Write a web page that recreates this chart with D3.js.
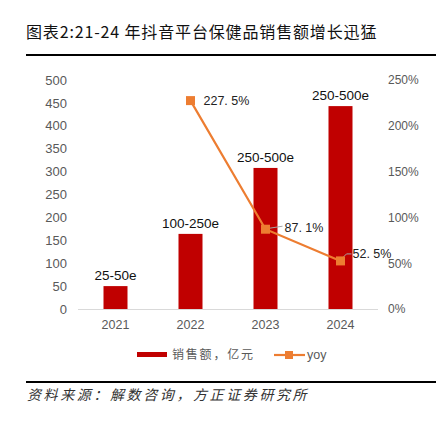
<!DOCTYPE html>
<html>
<head>
<meta charset="utf-8">
<script src="https://cdn.jsdelivr.net/npm/d3@7"></script>
<style>
  body { margin: 0; background: #fff; }
  svg { display: block; font-family: "Liberation Sans", Arial, sans-serif; }
</style>
</head>
<body>
<svg id="chart" width="443" height="433"></svg>
<script>
"use strict";

// data
const years = ["2021", "2022", "2023", "2024"];
const sales = [50, 164, 308, 443];          // 亿元 (bar height)
const salesLabels = ["25-50e", "100-250e", "250-500e", "250-500e"];
const yoy = [null, 227.5, 87.1, 52.5];       // %
const yoyLabels = ["", "227. 5%", "87. 1%", "52. 5%"];
const leftTicks = [0, 50, 100, 150, 200, 250, 300, 350, 400, 450, 500];
const rightTicks = [0, 50, 100, 150, 200, 250];

const barColor = "#C00000";
const lineColor = "#ED7D31";
const tickColor = "#595959";
const cjk = "'Noto Sans CJK SC', 'Noto Sans', sans-serif";

const svg = d3.select("#chart");

// title + rules
svg.append("text")
  .attr("x", 26).attr("y", 38)
  .attr("font-family", cjk)
  .attr("font-size", 16)
  .attr("font-weight", 400)
  .attr("letter-spacing", 0.85)
  .attr("fill", "#111")
  .text("图表2:21-24 年抖音平台保健品销售额增长迅猛");

svg.append("rect").attr("x", 26).attr("y", 54).attr("width", 410).attr("height", 2).attr("fill", "#000");
svg.append("rect").attr("x", 26).attr("y", 381).attr("width", 410).attr("height", 2).attr("fill", "#000");

svg.append("text")
  .attr("x", 27).attr("y", 400)
  .attr("font-family", cjk)
  .attr("font-size", 14)
  .attr("font-style", "italic")
  .attr("letter-spacing", 2.6)
  .attr("fill", "#333")
  .text("资料来源：解数咨询，方正证券研究所");

// scales
const x = d3.scaleBand().domain(years).range([78, 378]).paddingInner(0.68).paddingOuter(0.34);
const y = d3.scaleLinear().domain([0, 500]).range([309, 80]);
const y2 = d3.scaleLinear().domain([0, 250]).range([309, 80]);

// axes
const leftAxis = svg.append("g").attr("transform", "translate(67,0)")
  .call(d3.axisLeft(y).tickValues(leftTicks).tickSize(0).tickPadding(0));
const rightAxis = svg.append("g").attr("transform", "translate(388,0)")
  .call(d3.axisRight(y2).tickValues(rightTicks).tickSize(0).tickPadding(0).tickFormat(d => d + "%"));
const bottomAxis = svg.append("g").attr("transform", "translate(0,309)")
  .call(d3.axisBottom(x).tickSize(0).tickPadding(11));

[leftAxis, rightAxis, bottomAxis].forEach(g => {
  g.select(".domain").remove();
  g.selectAll("text").attr("fill", tickColor).attr("font-size", 13)
    .attr("font-family", "'Liberation Sans', Arial, sans-serif");
});
rightAxis.selectAll("text").attr("font-size", 12);
bottomAxis.selectAll("text").attr("font-size", 12.5);

// bars
svg.append("g").selectAll("rect").data(years).join("rect")
  .attr("x", d => x(d))
  .attr("y", (d, i) => y(sales[i]))
  .attr("width", x.bandwidth())
  .attr("height", (d, i) => y(0) - y(sales[i]))
  .attr("fill", barColor);

// baseline
svg.append("line")
  .attr("x1", 78).attr("x2", 378).attr("y1", 309.5).attr("y2", 309.5)
  .attr("stroke", "#d9d9d9").attr("stroke-width", 1);

svg.append("g").selectAll("text").data(years).join("text")
  .attr("x", d => x(d) + x.bandwidth() / 2)
  .attr("y", (d, i) => y(sales[i]) - 6)
  .attr("text-anchor", "middle")
  .attr("font-size", 13.5)
  .attr("fill", "#111")
  .text((d, i) => salesLabels[i]);

// yoy line
const pts = years.map((d, i) => ({ year: d, v: yoy[i], label: yoyLabels[i] })).filter(p => p.v != null);
const cx = d => x(d.year) + x.bandwidth() / 2;

svg.append("path")
  .datum(pts)
  .attr("fill", "none")
  .attr("stroke", lineColor)
  .attr("stroke-width", 2.2)
  .attr("d", d3.line().x(cx).y(d => y2(d.v)));

// leader lines for the two lower labels
svg.append("path")
  .attr("d", `M${cx(pts[1]) + 4},${y2(pts[1].v) - 1} L${cx(pts[1]) + 17},${y2(pts[1].v) - 3}`)
  .attr("stroke", "#a6a6a6").attr("fill", "none");
svg.append("path")
  .attr("d", `M${cx(pts[2]) + 3},${y2(pts[2].v) - 4} L${cx(pts[2]) + 6},${y2(pts[2].v) - 7} L${cx(pts[2]) + 11},${y2(pts[2].v) - 7}`)
  .attr("stroke", "#a6a6a6").attr("fill", "none");

svg.append("g").selectAll("rect").data(pts).join("rect")
  .attr("x", d => cx(d) - 4.5)
  .attr("y", d => y2(d.v) - 4.5)
  .attr("width", 9).attr("height", 9)
  .attr("fill", lineColor);

const labelOffsets = [[13, 0], [19, -2], [12, -7]];
svg.append("g").selectAll("text").data(pts).join("text")
  .attr("x", (d, i) => cx(d) + labelOffsets[i][0])
  .attr("y", (d, i) => y2(d.v) + labelOffsets[i][1])
  .attr("dy", "0.36em")
  .attr("font-size", 12.5)
  .attr("fill", "#222")
  .text(d => d.label);

// legend
const lg = svg.append("g");
lg.append("rect").attr("x", 137).attr("y", 352).attr("width", 30).attr("height", 5).attr("fill", barColor);
lg.append("text").attr("x", 172).attr("y", 359)
  .attr("font-family", cjk).attr("font-size", 12).attr("fill", tickColor)
  .attr("letter-spacing", 1.8)
  .text("销售额，亿元");
lg.append("line").attr("x1", 274).attr("x2", 305).attr("y1", 355).attr("y2", 355)
  .attr("stroke", lineColor).attr("stroke-width", 2.2);
lg.append("rect").attr("x", 285).attr("y", 351).attr("width", 8).attr("height", 8).attr("fill", lineColor);
lg.append("text").attr("x", 307).attr("y", 359)
  .attr("font-size", 12.5).attr("fill", tickColor)
  .text("yoy");
</script>
</body>
</html>
